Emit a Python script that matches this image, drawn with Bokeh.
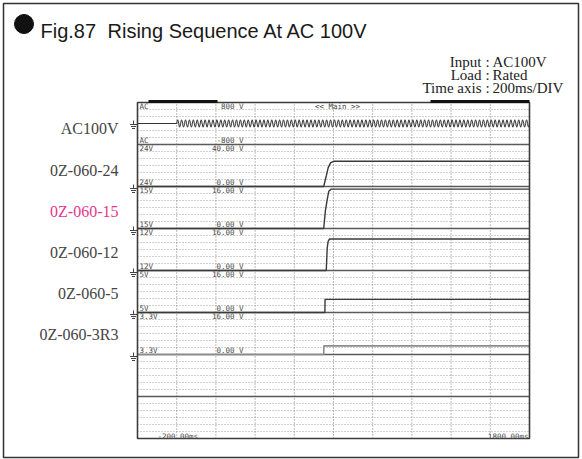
import numpy as np
from bokeh.plotting import figure
from bokeh.models import Range1d, ColumnDataSource
from bokeh.core.properties import value
from bokeh.embed import file_html
from bokeh.resources import INLINE

# ---------------- data ----------------
title_fig = "Fig.87"
title_text = "Rising Sequence At AC 100V"
note_keys = ["Input", "Load", "Time axis"]
note_vals = ["AC100V", "Rated", "200ms/DIV"]

channel_labels = ["AC100V", "0Z-060-24", "0Z-060-15", "0Z-060-12", "0Z-060-5", "0Z-060-3R3"]
channel_tags = ["AC", "24V", "15V", "12V", "5V", "3.3V"]
scale_top_text = ["800 V", "40.00 V", "16.00 V", "16.00 V", "16.00 V", "16.00 V"]
scale_bottom_text = ["-800 V", "0.00 V", "0.00 V", "0.00 V", "0.00 V", "0.00 V"]
scale_top_v = [800, 40, 16, 16, 16, 16]
scale_bottom_v = [-800, 0, 0, 0, 0, 0]

time_start_ms = -200
time_end_ms = 1800
time_div_ms = 200
time_labels = ["-200.00ms", "1800.00ms"]
main_label = "<< Main >>"

# AC input: one 50 Hz cycle (V), switched on at 0 ms
ac_on_ms = 0
ac_period_ms = 20
ac_cycle_v = [0, 100, 141, 100, 0, -100, -141, -100]

# DC outputs (ms, V)
t24 = [-200, 750, 763, 773, 785, 800, 1800]
v24 = [0, 0, 10, 18, 22.5, 24, 24]
t15 = [-200, 750, 759, 768, 776, 788, 1800]
v15 = [0, 0, 7, 11, 14.2, 15, 15]
t12 = [-200, 763, 768, 773, 780, 1800]
v12 = [0, 0, 8.6, 11.2, 12, 12]
t5 = [-200, 756, 757, 1800]
v5 = [0, 0, 5, 5]
t33 = [-200, 750, 751, 1800]
v33 = [0, 0, 3.3, 3.3]

# ---------------- layout (canvas pixels) ----------------
W, H = 582, 459
BOX_L, BOX_R, BOX_T, BOX_B = 3, 578, 3, 457      # outer frame
FL, FR, FT, FB = 137, 529, 102, 438              # scope screen
N_SECT = 8
SUB = 6


def xd(px):
    return time_start_ms + (px - FL) * (time_end_ms - time_start_ms) / (FR - FL)


def yd(py):
    return (FB - py) * N_SECT / (FB - FT)


p = figure(width=W, height=H,
           min_border_left=BOX_L, min_border_right=W - BOX_R,
           min_border_top=BOX_T, min_border_bottom=H - BOX_B,
           x_range=Range1d(xd(BOX_L), xd(BOX_R)), y_range=Range1d(yd(BOX_B), yd(BOX_T)),
           x_axis_location=None, y_axis_location=None,
           output_backend="svg", toolbar_location=None)
p.background_fill_color = "white"
p.border_fill_color = "white"
p.outline_line_color = "#333333"
p.outline_line_width = 1.5
p.grid.visible = False

# ---- scope grid ----
minor_y = [k / SUB for k in range(1, N_SECT * SUB) if k % SUB]
p.segment(x0=[time_start_ms] * len(minor_y), y0=minor_y,
          x1=[time_end_ms] * len(minor_y), y1=minor_y,
          line_color="#a0a0a0", line_dash="1 2", line_width=1)
div_x = list(range(time_start_ms + time_div_ms, time_end_ms, time_div_ms))
p.segment(x0=div_x, y0=[0] * len(div_x), x1=div_x, y1=[N_SECT] * len(div_x),
          line_color="#7a7a7a", line_dash="1 2", line_width=1)
sect_y = list(range(1, N_SECT))
p.segment(x0=[time_start_ms] * len(sect_y), y0=sect_y,
          x1=[time_end_ms] * len(sect_y), y1=sect_y,
          line_color="#5a5a5a", line_width=1.3)


def to_y(i, v):
    lo, hi = scale_bottom_v[i], scale_top_v[i]
    return [(N_SECT - 1 - i) + (x - lo) / (hi - lo) for x in v]


# AC trace
n_cyc = (time_end_ms - ac_on_ms) // ac_period_ms
step = ac_period_ms / len(ac_cycle_v)
t_ac = [time_start_ms, ac_on_ms] + list(ac_on_ms + np.arange(n_cyc * len(ac_cycle_v) + 1) * step)
v_ac = [0, 0] + list(np.tile(ac_cycle_v, n_cyc)) + [0]
p.line(t_ac, to_y(0, v_ac), line_color="#333333", line_width=1.0)

traces = [(t24, v24), (t15, v15), (t12, v12), (t5, v5), (t33, v33)]
colors = ["#3a3a3a", "#3a3a3a", "#3a3a3a", "#3a3a3a", "#8c8c8c"]
widths = [1.4, 1.4, 1.4, 1.4, 1.6]
for k, (t, v) in enumerate(traces):
    p.line(t, to_y(k + 1, v), line_color=colors[k], line_width=widths[k])

# scope border
p.quad(left=[time_start_ms], right=[time_end_ms], bottom=[0], top=[N_SECT],
       fill_alpha=0, line_color="#3c3c3c", line_width=1.6)

# top indicator bars
p.segment(x0=[xd(148), xd(430)], y0=[yd(101)] * 2, x1=[xd(217), xd(529)], y1=[yd(101)] * 2,
          line_color="#111111", line_width=3)

# ---- in-scope small texts ----
mono = value("DejaVu Sans Mono")
n = len(channel_tags)
top_y = [(N_SECT - i) - 3.5 / 42 for i in range(n)]
bot_y = [(N_SECT - 1 - i) + 3.8 / 42 for i in range(n)]
src = ColumnDataSource(dict(x=[xd(139)] * n, ty=top_y, by=bot_y, tag=channel_tags,
                            xv=[xd(243)] * n, ttop=scale_top_text, tbot=scale_bottom_text))
common = dict(text_font=mono, text_font_size="7.5px", text_color="#4a4a4a",
              text_baseline="middle")
p.text(x="x", y="ty", text="tag", source=src, text_align="left", **common)
p.text(x="x", y="by", text="tag", source=src, text_align="left", **common)
p.text(x="xv", y="ty", text="ttop", source=src, text_align="right", **common)
p.text(x="xv", y="by", text="tbot", source=src, text_align="right", **common)
p.text(x=[xd(337)], y=[yd(105.5)], text=[main_label], text_align="center", **common)
p.text(x=[xd(157), xd(528)], y=[yd(435.5)] * 2, text=time_labels,
       text_align=["left", "right"], **common)

# ---- ground symbols ----
zero_py = [123, 187, 229, 271, 313, 355]
gx0, gy0, gx1, gy1 = [], [], [], []
for y0 in zero_py:
    for xa, ya, xb, yb in [(133, y0 - 3, 133, y0 + 1), (129.5, y0 + 1, 136.5, y0 + 1),
                           (130.5, y0 + 3, 135.5, y0 + 3), (131.5, y0 + 5, 134.5, y0 + 5)]:
        gx0.append(xd(xa)); gy0.append(yd(ya)); gx1.append(xd(xb)); gy1.append(yd(yb))
p.segment(x0=gx0, y0=gy0, x1=gx1, y1=gy1, line_color="#444444", line_width=1)

# ---- channel names on the left ----
label_py = [128, 169.5, 210.5, 251.5, 293, 334]
label_colors = ["#444444", "#444444", "#e4378c", "#444444", "#444444", "#444444"]
p.text(x=[xd(118)] * len(channel_labels), y=[yd(v) for v in label_py], text=channel_labels,
       text_color=label_colors, text_align="right", text_baseline="middle",
       text_font=value("Liberation Serif"), text_font_size="16px")

# ---- title ----
p.scatter(x=[xd(23.5)], y=[yd(23.5)], size=19, marker="circle",
          fill_color="#111111", line_color="#111111")
title_font = dict(text_align="left", text_baseline="alphabetic",
                  text_font=value("Liberation Sans"), text_font_size="20px",
                  text_color="#1a1a1a")
p.text(x=[xd(40)], y=[yd(30.5)], text=[title_fig], **title_font)
p.text(x=[xd(107)], y=[yd(30.5)], text=[title_text], **title_font)

# ---- notes ----
nk = len(note_keys)
note_by = [yd(61 + 13 * k) for k in range(nk)]
serif = dict(text_baseline="alphabetic", text_font=value("Liberation Serif"),
             text_font_size="15px", text_color="#222222")
p.text(x=[xd(481)] * nk, y=note_by, text=note_keys, text_align="right", **serif)
p.text(x=[xd(487)] * nk, y=note_by, text=[":"] * nk, text_align="center", **serif)
p.text(x=[xd(492)] * nk, y=note_by, text=note_vals, text_align="left", **serif)

open("out.html", "w").write(file_html(p, INLINE))
